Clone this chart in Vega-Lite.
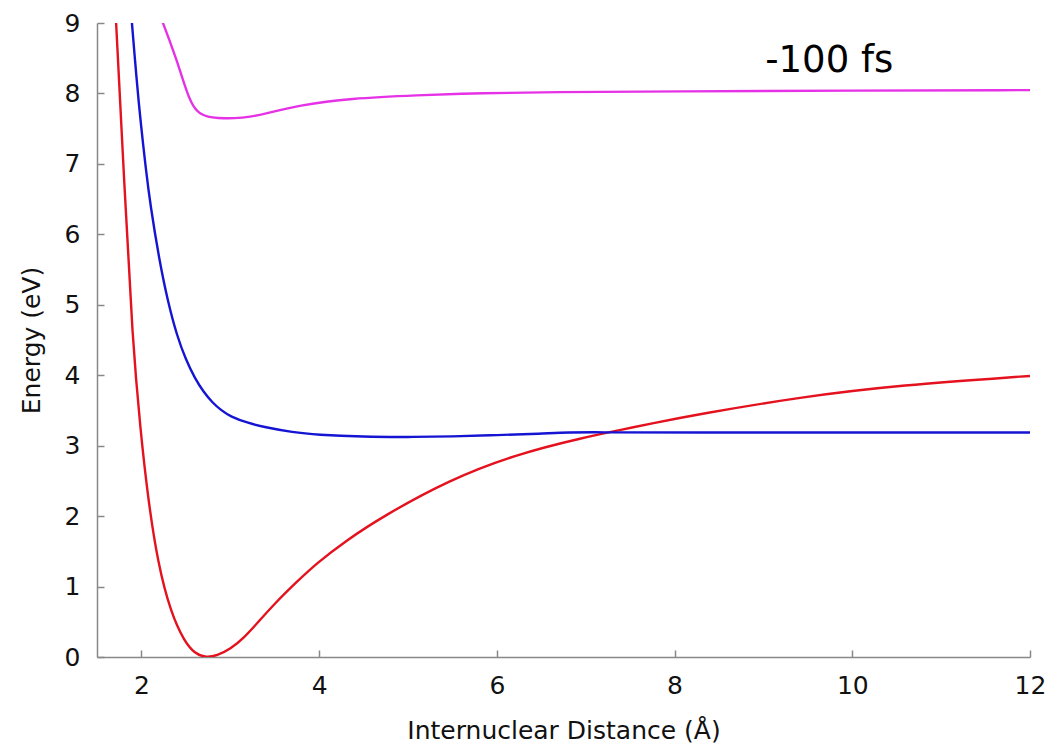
{
  "$schema": "https://vega.github.io/schema/vega-lite/v6.json",
  "width": 933,
  "height": 634,
  "autosize": {"type": "none"},
  "padding": {"left": 97, "top": 23, "right": 27, "bottom": 98},
  "background": "white",
  "config": {"view": {"stroke": null}, "font": "DejaVu Sans"},
  "datasets": {
    "curves": [
      {"series": "ground", "r": 1.705, "e": 9.25},
      {"series": "ground", "r": 1.809, "e": 6.68},
      {"series": "ground", "r": 1.899, "e": 4.5},
      {"series": "ground", "r": 1.989, "e": 3.22},
      {"series": "ground", "r": 2.071, "e": 2.28},
      {"series": "ground", "r": 2.184, "e": 1.33},
      {"series": "ground", "r": 2.333, "e": 0.62},
      {"series": "ground", "r": 2.484, "e": 0.22},
      {"series": "ground", "r": 2.6, "e": 0.05},
      {"series": "ground", "r": 2.727, "e": -0.01},
      {"series": "ground", "r": 2.85, "e": 0.02},
      {"series": "ground", "r": 3.0, "e": 0.11},
      {"series": "ground", "r": 3.16, "e": 0.28},
      {"series": "ground", "r": 3.31, "e": 0.49},
      {"series": "ground", "r": 3.5, "e": 0.76},
      {"series": "ground", "r": 3.75, "e": 1.07},
      {"series": "ground", "r": 3.971, "e": 1.33},
      {"series": "ground", "r": 4.3, "e": 1.65},
      {"series": "ground", "r": 4.721, "e": 2.0},
      {"series": "ground", "r": 5.472, "e": 2.52},
      {"series": "ground", "r": 6.223, "e": 2.88},
      {"series": "ground", "r": 6.973, "e": 3.115},
      {"series": "ground", "r": 7.42, "e": 3.23},
      {"series": "ground", "r": 7.72, "e": 3.31},
      {"series": "ground", "r": 8.287, "e": 3.45},
      {"series": "ground", "r": 9.413, "e": 3.69},
      {"series": "ground", "r": 10.539, "e": 3.86},
      {"series": "ground", "r": 12.0, "e": 3.99},
      {"series": "excited1", "r": 1.88, "e": 9.2},
      {"series": "excited1", "r": 1.95, "e": 8.13},
      {"series": "excited1", "r": 1.989, "e": 7.62},
      {"series": "excited1", "r": 2.05, "e": 6.92},
      {"series": "excited1", "r": 2.1, "e": 6.42},
      {"series": "excited1", "r": 2.2, "e": 5.64},
      {"series": "excited1", "r": 2.3, "e": 5.03},
      {"series": "excited1", "r": 2.4, "e": 4.56},
      {"series": "excited1", "r": 2.5, "e": 4.22},
      {"series": "excited1", "r": 2.6, "e": 3.96},
      {"series": "excited1", "r": 2.7, "e": 3.76},
      {"series": "excited1", "r": 2.8, "e": 3.61},
      {"series": "excited1", "r": 2.9, "e": 3.5},
      {"series": "excited1", "r": 3.0, "e": 3.415},
      {"series": "excited1", "r": 3.2, "e": 3.32},
      {"series": "excited1", "r": 3.4, "e": 3.26},
      {"series": "excited1", "r": 3.7, "e": 3.19},
      {"series": "excited1", "r": 3.971, "e": 3.155},
      {"series": "excited1", "r": 4.5, "e": 3.125},
      {"series": "excited1", "r": 5.0, "e": 3.122},
      {"series": "excited1", "r": 5.5, "e": 3.13},
      {"series": "excited1", "r": 6.0, "e": 3.15},
      {"series": "excited1", "r": 6.5, "e": 3.17},
      {"series": "excited1", "r": 6.8, "e": 3.19},
      {"series": "excited1", "r": 7.2, "e": 3.19},
      {"series": "excited1", "r": 7.72, "e": 3.186},
      {"series": "excited1", "r": 12.0, "e": 3.186},
      {"series": "excited2", "r": 2.211, "e": 9.1},
      {"series": "excited2", "r": 2.243, "e": 9.0},
      {"series": "excited2", "r": 2.32, "e": 8.74},
      {"series": "excited2", "r": 2.394, "e": 8.48},
      {"series": "excited2", "r": 2.45, "e": 8.26},
      {"series": "excited2", "r": 2.507, "e": 8.04},
      {"series": "excited2", "r": 2.56, "e": 7.87},
      {"series": "excited2", "r": 2.61, "e": 7.77},
      {"series": "excited2", "r": 2.657, "e": 7.715},
      {"series": "excited2", "r": 2.75, "e": 7.665},
      {"series": "excited2", "r": 2.845, "e": 7.65},
      {"series": "excited2", "r": 3.05, "e": 7.645},
      {"series": "excited2", "r": 3.22, "e": 7.665},
      {"series": "excited2", "r": 3.408, "e": 7.716},
      {"series": "excited2", "r": 3.783, "e": 7.835},
      {"series": "excited2", "r": 4.346, "e": 7.93},
      {"series": "excited2", "r": 5.097, "e": 7.976},
      {"series": "excited2", "r": 5.847, "e": 8.005},
      {"series": "excited2", "r": 6.598, "e": 8.02},
      {"series": "excited2", "r": 8.0, "e": 8.03},
      {"series": "excited2", "r": 10.0, "e": 8.04},
      {"series": "excited2", "r": 12.0, "e": 8.047}
    ],
    "labels": [
      {"label": "-100 fs", "r": 9.02, "e": 8.31}
    ]
  },
  "layer": [
    {
      "data": {"name": "curves"},
      "mark": {"type": "line", "interpolate": "basis", "clip": true, "strokeWidth": 2.4},
      "encoding": {
        "x": {
          "field": "r", "type": "quantitative",
          "scale": {"domain": [1.5, 12], "nice": false, "zero": false},
          "axis": {
            "title": "Internuclear Distance (Å)",
            "values": [2, 4, 6, 8, 10, 12],
            "format": "d",
            "grid": false,
            "domainColor": "#888888", "domainWidth": 1.5,
            "tickColor": "#888888", "tickWidth": 1.5, "tickSize": -7,
            "labelPadding": 23, "labelFontSize": 25, "labelFont": "DejaVu Sans", "labelColor": "#111111",
            "labelFlush": false,
            "titleFontSize": 25, "titleFont": "DejaVu Sans", "titleFontWeight": "normal", "titleColor": "#111111",
            "titlePadding": 20
          }
        },
        "y": {
          "field": "e", "type": "quantitative",
          "scale": {"domain": [0, 9], "nice": false},
          "axis": {
            "title": "Energy (eV)",
            "values": [0, 1, 2, 3, 4, 5, 6, 7, 8, 9],
            "format": "d",
            "grid": false,
            "domainColor": "#888888", "domainWidth": 1.5,
            "tickColor": "#888888", "tickWidth": 1.5, "tickSize": -7,
            "labelPadding": 24, "labelFontSize": 25, "labelFont": "DejaVu Sans", "labelColor": "#111111",
            "labelFlush": false,
            "titleFontSize": 25, "titleFont": "DejaVu Sans", "titleFontWeight": "normal", "titleColor": "#111111",
            "titlePadding": 20
          }
        },
        "color": {
          "field": "series", "type": "nominal",
          "scale": {"domain": ["ground", "excited1", "excited2"], "range": ["#e4121e", "#1414d2", "#e632e6"]},
          "legend": null
        }
      }
    },
    {
      "data": {"name": "labels"},
      "mark": {"type": "text", "align": "left", "baseline": "alphabetic", "fontSize": 37, "font": "DejaVu Sans", "color": "#000000"},
      "encoding": {
        "x": {"field": "r", "type": "quantitative"},
        "y": {"field": "e", "type": "quantitative"},
        "text": {"field": "label"}
      }
    }
  ]
}
